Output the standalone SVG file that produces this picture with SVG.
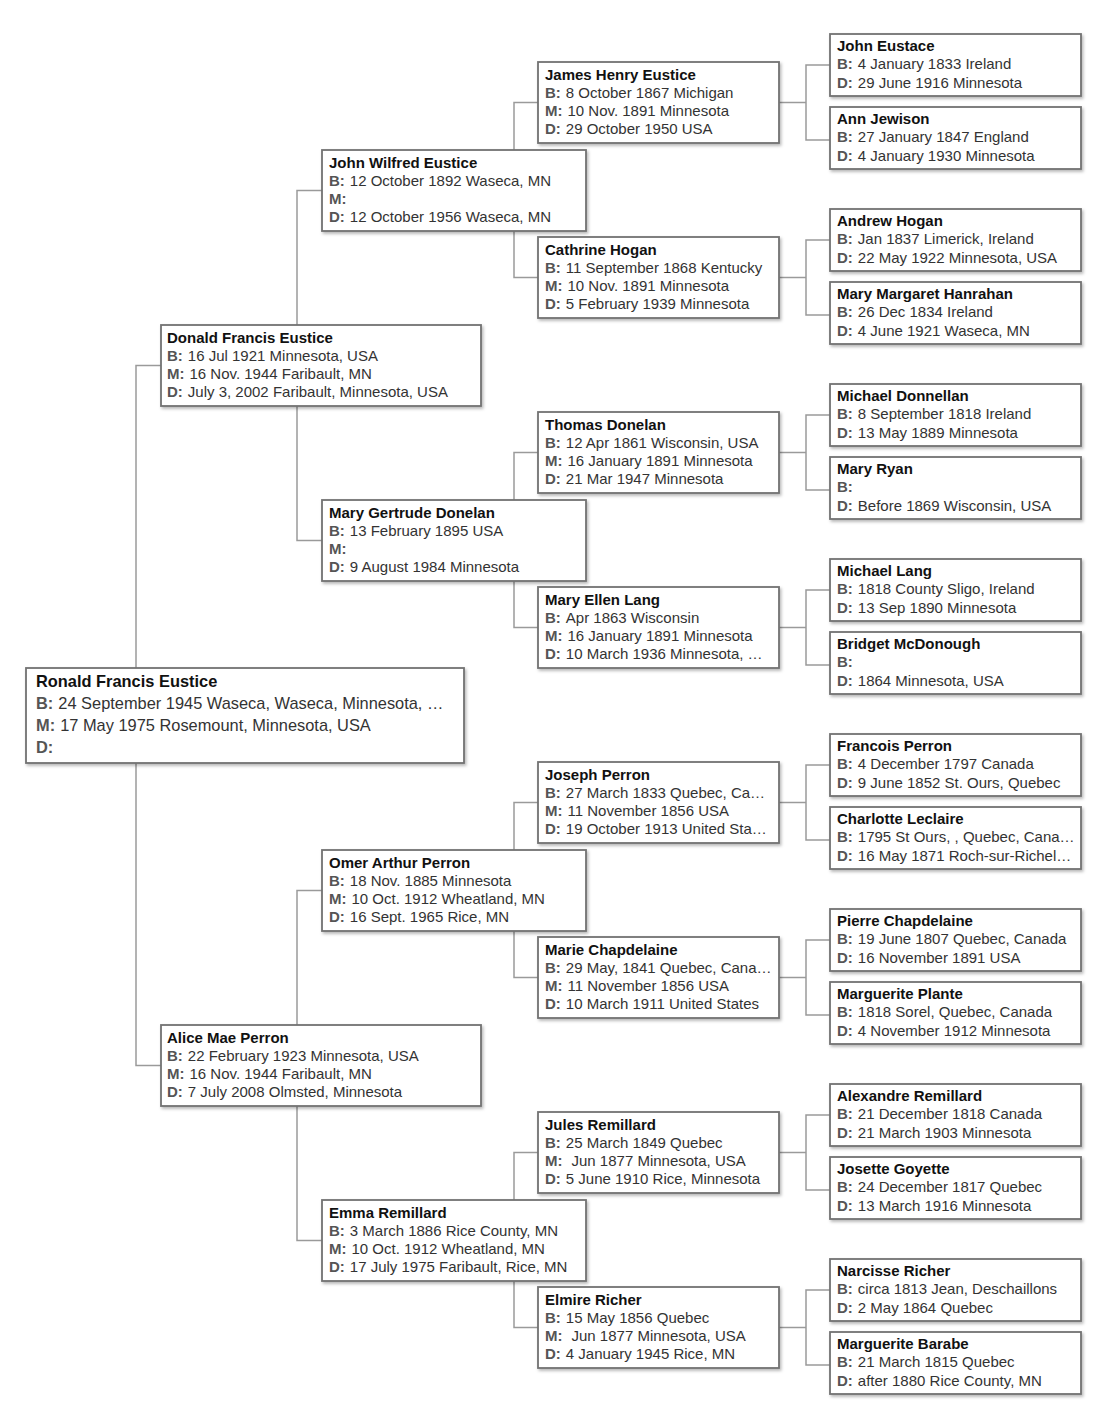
<svg xmlns="http://www.w3.org/2000/svg" width="1109" height="1424" viewBox="0 0 1109 1424">
<defs>
<filter id="sh" x="-5%" y="-10%" width="112%" height="130%">
<feDropShadow dx="1.5" dy="2" stdDeviation="1.5" flood-color="#000" flood-opacity="0.28"/>
</filter>
</defs>
<style>
rect.b{fill:#fff;stroke:#727272;stroke-width:1.8;filter:url(#sh)}
text{font-family:"Liberation Sans",Arial,sans-serif;font-size:15px;fill:#333}
text.big{font-size:16.4px}
.n{font-weight:bold;fill:#111}
.l{font-weight:bold;fill:#555}
#connectors path{fill:none;stroke:#9a9a9a;stroke-width:1.5}
</style>
<rect width="1109" height="1424" fill="#fff"/>
<g id="connectors">
<path d="M161 365.5H136V1065.5H161"/>
<path d="M322 190.5H297V540.5H322"/>
<path d="M322 890.5H297V1240.5H322"/>
<path d="M538 102.5H514V277.5H538"/>
<path d="M538 452.5H514V627.5H538"/>
<path d="M538 802.5H514V977.5H538"/>
<path d="M538 1152.5H514V1327.5H538"/>
<path d="M779 102.5H806M830 65H806V140H830"/>
<path d="M779 277.5H806M830 240H806V315H830"/>
<path d="M779 452.5H806M830 415H806V490H830"/>
<path d="M779 627.5H806M830 590H806V665H830"/>
<path d="M779 802.5H806M830 765H806V840H830"/>
<path d="M779 977.5H806M830 940H806V1015H830"/>
<path d="M779 1152.5H806M830 1115H806V1190H830"/>
<path d="M779 1327.5H806M830 1290H806V1365H830"/>
</g>

<g id="ronald">
<rect class="b" x="26" y="668" width="438" height="95"/>
<text class="big n" x="36" y="687">Ronald Francis Eustice</text>
<text class="big" x="36" y="709"><tspan class="l">B:</tspan><tspan dx="5">24 September 1945 Waseca, Waseca, Minnesota, …</tspan></text>
<text class="big" x="36" y="731"><tspan class="l">M:</tspan><tspan dx="5">17 May 1975 Rosemount, Minnesota, USA</tspan></text>
<text class="big" x="36" y="753"><tspan class="l">D:</tspan></text>
</g>

<g id="donald">
<rect class="b" x="161" y="325" width="320" height="81"/>
<text class="n" x="167" y="342.5">Donald Francis Eustice</text>
<text x="167" y="360.8"><tspan class="l">B:</tspan><tspan dx="5">16 Jul 1921 Minnesota, USA</tspan></text>
<text x="167" y="379.1"><tspan class="l">M:</tspan><tspan dx="5">16 Nov. 1944 Faribault, MN</tspan></text>
<text x="167" y="397.4"><tspan class="l">D:</tspan><tspan dx="5">July 3, 2002 Faribault, Minnesota, USA</tspan></text>
</g>
<g id="alice">
<rect class="b" x="161" y="1025" width="320" height="81"/>
<text class="n" x="167" y="1042.5">Alice Mae Perron</text>
<text x="167" y="1060.8"><tspan class="l">B:</tspan><tspan dx="5">22 February 1923 Minnesota, USA</tspan></text>
<text x="167" y="1079.1"><tspan class="l">M:</tspan><tspan dx="5">16 Nov. 1944 Faribault, MN</tspan></text>
<text x="167" y="1097.4"><tspan class="l">D:</tspan><tspan dx="5">7 July 2008 Olmsted, Minnesota</tspan></text>
</g>

<g id="john-wilfred">
<rect class="b" x="322" y="150" width="264" height="81"/>
<text class="n" x="329" y="167.5">John Wilfred Eustice</text>
<text x="329" y="185.8"><tspan class="l">B:</tspan><tspan dx="5">12 October 1892 Waseca, MN</tspan></text>
<text x="329" y="204.1"><tspan class="l">M:</tspan></text>
<text x="329" y="222.4"><tspan class="l">D:</tspan><tspan dx="5">12 October 1956 Waseca, MN</tspan></text>
</g>
<g id="mary-gertrude">
<rect class="b" x="322" y="500" width="264" height="81"/>
<text class="n" x="329" y="517.5">Mary Gertrude Donelan</text>
<text x="329" y="535.8"><tspan class="l">B:</tspan><tspan dx="5">13 February 1895 USA</tspan></text>
<text x="329" y="554.1"><tspan class="l">M:</tspan></text>
<text x="329" y="572.4"><tspan class="l">D:</tspan><tspan dx="5">9 August 1984 Minnesota</tspan></text>
</g>
<g id="omer">
<rect class="b" x="322" y="850" width="264" height="81"/>
<text class="n" x="329" y="867.5">Omer Arthur Perron</text>
<text x="329" y="885.8"><tspan class="l">B:</tspan><tspan dx="5">18 Nov. 1885 Minnesota</tspan></text>
<text x="329" y="904.1"><tspan class="l">M:</tspan><tspan dx="5">10 Oct. 1912 Wheatland, MN</tspan></text>
<text x="329" y="922.4"><tspan class="l">D:</tspan><tspan dx="5">16 Sept. 1965 Rice, MN</tspan></text>
</g>
<g id="emma">
<rect class="b" x="322" y="1200" width="264" height="81"/>
<text class="n" x="329" y="1217.5">Emma Remillard</text>
<text x="329" y="1235.8"><tspan class="l">B:</tspan><tspan dx="5">3 March 1886 Rice County, MN</tspan></text>
<text x="329" y="1254.1"><tspan class="l">M:</tspan><tspan dx="5">10 Oct. 1912 Wheatland, MN</tspan></text>
<text x="329" y="1272.4"><tspan class="l">D:</tspan><tspan dx="5">17 July 1975 Faribault, Rice, MN</tspan></text>
</g>

<g id="james-henry">
<rect class="b" x="538" y="62" width="241" height="81"/>
<text class="n" x="545" y="79.5">James Henry Eustice</text>
<text x="545" y="97.8"><tspan class="l">B:</tspan><tspan dx="5">8 October 1867 Michigan</tspan></text>
<text x="545" y="116.1"><tspan class="l">M:</tspan><tspan dx="5">10 Nov. 1891 Minnesota</tspan></text>
<text x="545" y="134.4"><tspan class="l">D:</tspan><tspan dx="5">29 October 1950 USA</tspan></text>
</g>
<g id="cathrine">
<rect class="b" x="538" y="237" width="241" height="81"/>
<text class="n" x="545" y="254.5">Cathrine Hogan</text>
<text x="545" y="272.8"><tspan class="l">B:</tspan><tspan dx="5">11 September 1868 Kentucky</tspan></text>
<text x="545" y="291.1"><tspan class="l">M:</tspan><tspan dx="5">10 Nov. 1891 Minnesota</tspan></text>
<text x="545" y="309.4"><tspan class="l">D:</tspan><tspan dx="5">5 February 1939 Minnesota</tspan></text>
</g>
<g id="thomas">
<rect class="b" x="538" y="412" width="241" height="81"/>
<text class="n" x="545" y="429.5">Thomas Donelan</text>
<text x="545" y="447.8"><tspan class="l">B:</tspan><tspan dx="5">12 Apr 1861 Wisconsin, USA</tspan></text>
<text x="545" y="466.1"><tspan class="l">M:</tspan><tspan dx="5">16 January 1891 Minnesota</tspan></text>
<text x="545" y="484.4"><tspan class="l">D:</tspan><tspan dx="5">21 Mar 1947 Minnesota</tspan></text>
</g>
<g id="mary-ellen">
<rect class="b" x="538" y="587" width="241" height="81"/>
<text class="n" x="545" y="604.5">Mary Ellen Lang</text>
<text x="545" y="622.8"><tspan class="l">B:</tspan><tspan dx="5">Apr 1863 Wisconsin</tspan></text>
<text x="545" y="641.1"><tspan class="l">M:</tspan><tspan dx="5">16 January 1891 Minnesota</tspan></text>
<text x="545" y="659.4"><tspan class="l">D:</tspan><tspan dx="5">10 March 1936 Minnesota, …</tspan></text>
</g>
<g id="joseph">
<rect class="b" x="538" y="762" width="241" height="81"/>
<text class="n" x="545" y="779.5">Joseph Perron</text>
<text x="545" y="797.8"><tspan class="l">B:</tspan><tspan dx="5">27 March 1833 Quebec, Ca…</tspan></text>
<text x="545" y="816.1"><tspan class="l">M:</tspan><tspan dx="5">11 November 1856 USA</tspan></text>
<text x="545" y="834.4"><tspan class="l">D:</tspan><tspan dx="5">19 October 1913 United Sta…</tspan></text>
</g>
<g id="marie">
<rect class="b" x="538" y="937" width="241" height="81"/>
<text class="n" x="545" y="954.5">Marie Chapdelaine</text>
<text x="545" y="972.8"><tspan class="l">B:</tspan><tspan dx="5">29 May, 1841 Quebec, Cana…</tspan></text>
<text x="545" y="991.1"><tspan class="l">M:</tspan><tspan dx="5">11 November 1856 USA</tspan></text>
<text x="545" y="1009.4"><tspan class="l">D:</tspan><tspan dx="5">10 March 1911 United States</tspan></text>
</g>
<g id="jules">
<rect class="b" x="538" y="1112" width="241" height="81"/>
<text class="n" x="545" y="1129.5">Jules Remillard</text>
<text x="545" y="1147.8"><tspan class="l">B:</tspan><tspan dx="5">25 March 1849 Quebec</tspan></text>
<text x="545" y="1166.1"><tspan class="l">M:</tspan><tspan dx="9">Jun 1877 Minnesota, USA</tspan></text>
<text x="545" y="1184.4"><tspan class="l">D:</tspan><tspan dx="5">5 June 1910 Rice, Minnesota</tspan></text>
</g>
<g id="elmire">
<rect class="b" x="538" y="1287" width="241" height="81"/>
<text class="n" x="545" y="1304.5">Elmire Richer</text>
<text x="545" y="1322.8"><tspan class="l">B:</tspan><tspan dx="5">15 May 1856 Quebec</tspan></text>
<text x="545" y="1341.1"><tspan class="l">M:</tspan><tspan dx="9">Jun 1877 Minnesota, USA</tspan></text>
<text x="545" y="1359.4"><tspan class="l">D:</tspan><tspan dx="5">4 January 1945 Rice, MN</tspan></text>
</g>

<g id="john-eustace">
<rect class="b" x="830" y="34" width="251" height="62"/>
<text class="n" x="837" y="51">John Eustace</text>
<text x="837" y="69.3"><tspan class="l">B:</tspan><tspan dx="5">4 January 1833 Ireland</tspan></text>
<text x="837" y="87.6"><tspan class="l">D:</tspan><tspan dx="5">29 June 1916 Minnesota</tspan></text>
</g>
<g id="ann-jewison">
<rect class="b" x="830" y="107" width="251" height="62"/>
<text class="n" x="837" y="124">Ann Jewison</text>
<text x="837" y="142.3"><tspan class="l">B:</tspan><tspan dx="5">27 January 1847 England</tspan></text>
<text x="837" y="160.6"><tspan class="l">D:</tspan><tspan dx="5">4 January 1930 Minnesota</tspan></text>
</g>
<g id="andrew-hogan">
<rect class="b" x="830" y="209" width="251" height="62"/>
<text class="n" x="837" y="226">Andrew Hogan</text>
<text x="837" y="244.3"><tspan class="l">B:</tspan><tspan dx="5">Jan 1837 Limerick, Ireland</tspan></text>
<text x="837" y="262.6"><tspan class="l">D:</tspan><tspan dx="5">22 May 1922 Minnesota, USA</tspan></text>
</g>
<g id="mary-margaret">
<rect class="b" x="830" y="282" width="251" height="62"/>
<text class="n" x="837" y="299">Mary Margaret Hanrahan</text>
<text x="837" y="317.3"><tspan class="l">B:</tspan><tspan dx="5">26 Dec 1834 Ireland</tspan></text>
<text x="837" y="335.6"><tspan class="l">D:</tspan><tspan dx="5">4 June 1921 Waseca, MN</tspan></text>
</g>
<g id="michael-donnellan">
<rect class="b" x="830" y="384" width="251" height="62"/>
<text class="n" x="837" y="401">Michael Donnellan</text>
<text x="837" y="419.3"><tspan class="l">B:</tspan><tspan dx="5">8 September 1818 Ireland</tspan></text>
<text x="837" y="437.6"><tspan class="l">D:</tspan><tspan dx="5">13 May 1889 Minnesota</tspan></text>
</g>
<g id="mary-ryan">
<rect class="b" x="830" y="457" width="251" height="62"/>
<text class="n" x="837" y="474">Mary Ryan</text>
<text x="837" y="492.3"><tspan class="l">B:</tspan></text>
<text x="837" y="510.6"><tspan class="l">D:</tspan><tspan dx="5">Before 1869 Wisconsin, USA</tspan></text>
</g>
<g id="michael-lang">
<rect class="b" x="830" y="559" width="251" height="62"/>
<text class="n" x="837" y="576">Michael Lang</text>
<text x="837" y="594.3"><tspan class="l">B:</tspan><tspan dx="5">1818 County Sligo, Ireland</tspan></text>
<text x="837" y="612.6"><tspan class="l">D:</tspan><tspan dx="5">13 Sep 1890 Minnesota</tspan></text>
</g>
<g id="bridget">
<rect class="b" x="830" y="632" width="251" height="62"/>
<text class="n" x="837" y="649">Bridget McDonough</text>
<text x="837" y="667.3"><tspan class="l">B:</tspan></text>
<text x="837" y="685.6"><tspan class="l">D:</tspan><tspan dx="5">1864 Minnesota, USA</tspan></text>
</g>
<g id="francois">
<rect class="b" x="830" y="734" width="251" height="62"/>
<text class="n" x="837" y="751">Francois Perron</text>
<text x="837" y="769.3"><tspan class="l">B:</tspan><tspan dx="5">4 December 1797 Canada</tspan></text>
<text x="837" y="787.6"><tspan class="l">D:</tspan><tspan dx="5">9 June 1852 St. Ours, Quebec</tspan></text>
</g>
<g id="charlotte">
<rect class="b" x="830" y="807" width="251" height="62"/>
<text class="n" x="837" y="824">Charlotte Leclaire</text>
<text x="837" y="842.3"><tspan class="l">B:</tspan><tspan dx="5">1795 St Ours, , Quebec, Cana…</tspan></text>
<text x="837" y="860.6"><tspan class="l">D:</tspan><tspan dx="5">16 May 1871 Roch-sur-Richel…</tspan></text>
</g>
<g id="pierre">
<rect class="b" x="830" y="909" width="251" height="62"/>
<text class="n" x="837" y="926">Pierre Chapdelaine</text>
<text x="837" y="944.3"><tspan class="l">B:</tspan><tspan dx="5">19 June 1807 Quebec, Canada</tspan></text>
<text x="837" y="962.6"><tspan class="l">D:</tspan><tspan dx="5">16 November 1891 USA</tspan></text>
</g>
<g id="marguerite-plante">
<rect class="b" x="830" y="982" width="251" height="62"/>
<text class="n" x="837" y="999">Marguerite Plante</text>
<text x="837" y="1017.3"><tspan class="l">B:</tspan><tspan dx="5">1818 Sorel, Quebec, Canada</tspan></text>
<text x="837" y="1035.6"><tspan class="l">D:</tspan><tspan dx="5">4 November 1912 Minnesota</tspan></text>
</g>
<g id="alexandre">
<rect class="b" x="830" y="1084" width="251" height="62"/>
<text class="n" x="837" y="1101">Alexandre Remillard</text>
<text x="837" y="1119.3"><tspan class="l">B:</tspan><tspan dx="5">21 December 1818 Canada</tspan></text>
<text x="837" y="1137.6"><tspan class="l">D:</tspan><tspan dx="5">21 March 1903 Minnesota</tspan></text>
</g>
<g id="josette">
<rect class="b" x="830" y="1157" width="251" height="62"/>
<text class="n" x="837" y="1174">Josette Goyette</text>
<text x="837" y="1192.3"><tspan class="l">B:</tspan><tspan dx="5">24 December 1817 Quebec</tspan></text>
<text x="837" y="1210.6"><tspan class="l">D:</tspan><tspan dx="5">13 March 1916 Minnesota</tspan></text>
</g>
<g id="narcisse">
<rect class="b" x="830" y="1259" width="251" height="62"/>
<text class="n" x="837" y="1276">Narcisse Richer</text>
<text x="837" y="1294.3"><tspan class="l">B:</tspan><tspan dx="5">circa 1813 Jean, Deschaillons</tspan></text>
<text x="837" y="1312.6"><tspan class="l">D:</tspan><tspan dx="5">2 May 1864 Quebec</tspan></text>
</g>
<g id="marguerite-barabe">
<rect class="b" x="830" y="1332" width="251" height="62"/>
<text class="n" x="837" y="1349">Marguerite Barabe</text>
<text x="837" y="1367.3"><tspan class="l">B:</tspan><tspan dx="5">21 March 1815 Quebec</tspan></text>
<text x="837" y="1385.6"><tspan class="l">D:</tspan><tspan dx="5">after 1880 Rice County, MN</tspan></text>
</g>
</svg>
